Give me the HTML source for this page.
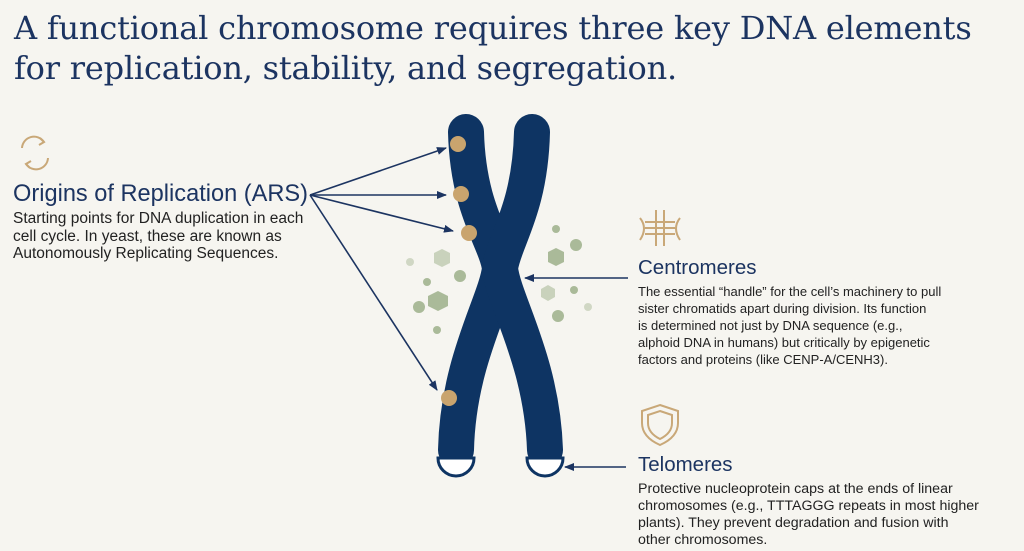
<!DOCTYPE html><html><head><style>
body{margin:0;width:1024px;height:551px;background:#f6f5f0;font-family:"Liberation Sans",sans-serif;position:relative;overflow:hidden}
h1{position:absolute;left:14px;top:8px;margin:0;font-family:"DejaVu Serif",serif;font-weight:normal;color:#1c3461;font-size:32px;line-height:40px;letter-spacing:-0.2px}
.t{position:absolute;color:#1c3461;font-size:20.5px}
.p{position:absolute;color:#222;font-size:13px;line-height:17px}
</style></head><body>
<h1>A functional chromosome requires three key DNA elements<br>for replication, stability, and segregation.</h1>
<div class="t" style="left:13px;top:181px;font-size:23.6px">Origins of Replication (ARS)</div>
<div class="p" style="left:13px;top:210px;font-size:15.5px;line-height:17.5px">Starting points for DNA duplication in each<br>cell cycle. In yeast, these are known as<br>Autonomously Replicating Sequences.</div>
<div class="t" style="left:638px;top:256px">Centromeres</div>
<div class="p" style="left:638px;top:283px">The essential “handle” for the cell’s machinery to pull<br>sister chromatids apart during division. Its function<br>is determined not just by DNA sequence (e.g.,<br>alphoid DNA in humans) but critically by epigenetic<br>factors and proteins (like CENP-A/CENH3).</div>
<div class="t" style="left:638px;top:453px">Telomeres</div>
<div class="p" style="left:638px;top:481px;font-size:14.2px">Protective nucleoprotein caps at the ends of linear<br>chromosomes (e.g., TTTAGGG repeats in most higher<br>plants). They prevent degradation and fusion with<br>other chromosomes.</div>
<svg width="1024" height="551" style="position:absolute;left:0;top:0">
<defs><marker id="a" markerWidth="10" markerHeight="8" refX="9" refY="4" orient="auto" markerUnits="userSpaceOnUse"><path d="M0,0L10,4L0,8z" fill="#1c3461"/></marker></defs>
<g fill="none" stroke="#c9a878" stroke-width="2">
<path d="M22,148 A12,12 0 0 1 44,142"/><path d="M48,158 A12,12 0 0 1 26,164"/>
<path d="M40,138l4,4-5,3M30,168l-4,-4 5,-3"/>
<path d="M656,210v36M664,210v36M645,222h30M645,228h30M645,234h30M640,218q8,10 0,22M680,218q-8,10 0,22"/>
<path d="M660,405l18,6v12q0,14-18,22q-18-8-18-22v-12z"/><path d="M660,411l12,4v8q0,10-12,16q-12-6-12-16v-8z"/>
</g>
<g fill="#9db08a" opacity="0.85">
<polygon points="442,249 450,253 450,263 442,267 434,263 434,253" opacity=".6"/>
<polygon points="438,291 448,296 448,306 438,311 428,306 428,296"/>
<polygon points="556,248 564,252 564,262 556,266 548,262 548,252"/>
<polygon points="548,285 555,289 555,297 548,301 541,297 541,289" opacity=".6"/>
<circle cx="410" cy="262" r="4" opacity=".5"/><circle cx="427" cy="282" r="4"/><circle cx="460" cy="276" r="6"/>
<circle cx="419" cy="307" r="6"/><circle cx="437" cy="330" r="4"/><circle cx="556" cy="229" r="4"/>
<circle cx="576" cy="245" r="6"/><circle cx="574" cy="290" r="4"/><circle cx="588" cy="307" r="4" opacity=".5"/><circle cx="558" cy="316" r="6"/>
</g>
<g fill="none" stroke="#0e3463" stroke-width="36" stroke-linecap="round">
<path d="M466,132 C468,210 496,240 500,268 C497,300 458,360 456,450"/>
<path d="M532,132 C530,210 504,240 500,268 C503,300 542,360 545,450"/>
</g>
<g fill="#fff" stroke="#0e3463" stroke-width="3">
<path d="M438,458 h36 a18,18 0 0 1 -36,0z"/><path d="M527,458 h36 a18,18 0 0 1 -36,0z"/>
</g>
<g fill="#c9a46e"><circle cx="458" cy="144" r="8"/><circle cx="461" cy="194" r="8"/><circle cx="469" cy="233" r="8"/><circle cx="449" cy="398" r="8"/></g>
<g stroke="#1c3461" stroke-width="1.6" marker-end="url(#a)">
<line x1="310" y1="195" x2="446" y2="148"/><line x1="310" y1="195" x2="446" y2="195"/>
<line x1="310" y1="195" x2="453" y2="231"/><line x1="310" y1="195" x2="437" y2="390"/>
<line x1="628" y1="278" x2="525" y2="278"/><line x1="626" y1="467" x2="565" y2="467"/>
</g>
</svg>
</body></html>
